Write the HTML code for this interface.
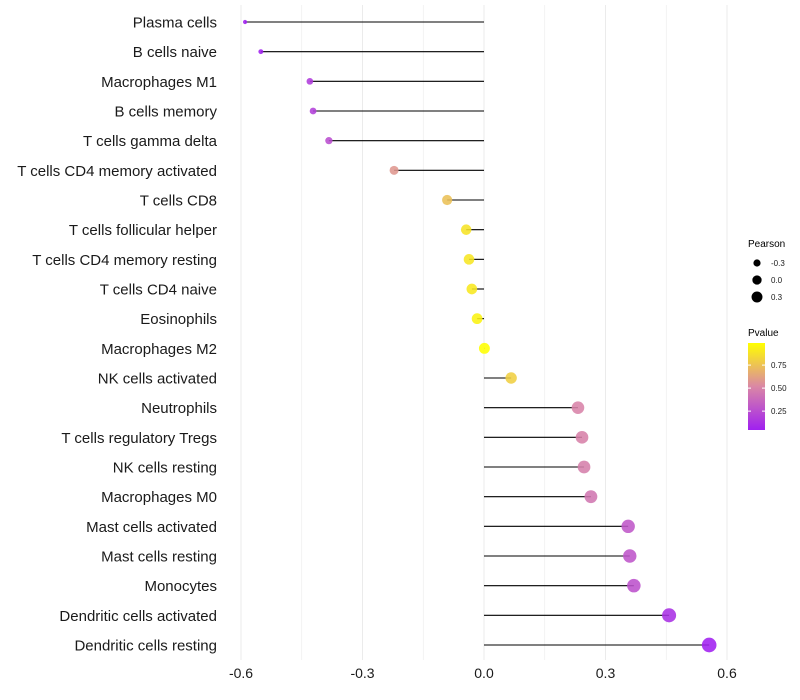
<!DOCTYPE html>
<html><head><meta charset="utf-8"><style>
body{margin:0;background:#fff;}
svg{display:block;font-family:"Liberation Sans",sans-serif;}
</style></head><body>
<svg id="chart" width="800" height="700"></svg>
<script>
const categories=["Plasma cells","B cells naive","Macrophages M1","B cells memory","T cells gamma delta","T cells CD4 memory activated","T cells CD8","T cells follicular helper","T cells CD4 memory resting","T cells CD4 naive","Eosinophils","Macrophages M2","NK cells activated","Neutrophils","T cells regulatory  Tregs ","NK cells resting","Macrophages M0","Mast cells activated","Mast cells resting","Monocytes","Dendritic cells activated","Dendritic cells resting"];
const pearson=[-0.590,-0.551,-0.430,-0.422,-0.383,-0.222,-0.091,-0.044,-0.037,-0.030,-0.017,0.001,0.067,0.232,0.242,0.247,0.264,0.356,0.360,0.370,0.457,0.556];
const pvalues=[0.02,0.05,0.17,0.19,0.25,0.58,0.74,0.88,0.89,0.90,0.94,1.0,0.80,0.50,0.49,0.48,0.44,0.30,0.29,0.27,0.12,0.04];
const xTicks=[-0.6,-0.3,0.0,0.3,0.6];
const xTickLabels=["-0.6","-0.3","0.0","0.3","0.6"];
const sizeLegend=[-0.3,0.0,0.3];
const colorTicks=[0.25,0.50,0.75];

const NS="http://www.w3.org/2000/svg";
const svg=document.getElementById('chart');
function el(t,a,p){const e=document.createElementNS(NS,t);for(const k in a)e.setAttribute(k,a[k]);(p||svg).appendChild(e);return e;}
const x=v=>484+v*405;
const y=i=>22+i*(623/21);
const r=v=>Math.sqrt(Math.max(2,29.7+43*v));
const rl=v=>Math.sqrt(Math.max(1.2,20.5+32*v));
function lerp(a,b,t){return a.map((c,i)=>Math.round(c+(b[i]-c)*t));}
function col(p){const t=Math.min(1,Math.max(0,(p-0.045)/(0.99-0.045)));
 const s=[[160,32,240],[218,135,165],[255,255,0]];
 const c=t<0.5?lerp(s[0],s[1],t/0.5):lerp(s[1],s[2],(t-0.5)/0.5);return `rgb(${c.join(',')})`;}

for(let g=-0.6;g<=0.61;g+=0.15){
 const gl=el('line',{x1:x(g),x2:x(g),y1:5,y2:660,stroke:'#ebebeb','stroke-width':Math.abs(Math.round(g*100)%30)<1?1:0.6});
 
}
xTicks.forEach((t,i)=>{
 const tx=el('text',{x:x(t),y:678,'font-size':14,'text-anchor':'middle',fill:'#1a1a1a'});tx.textContent=xTickLabels[i];
 
});
categories.forEach((c,i)=>{
 const lb=el('text',{x:217,y:y(i)+5.5,'font-size':15,'text-anchor':'end',fill:'#1a1a1a'});lb.textContent=c;
 
 const ln=el('line',{x1:x(0),x2:x(pearson[i]),y1:y(i),y2:y(i),stroke:'#000','stroke-width':1.1});
 
 const d=el('circle',{cx:x(pearson[i]),cy:y(i),r:r(pearson[i]),fill:col(pvalues[i]),'fill-opacity':0.88});
 
});
const lg=el('g',{});
el('text',{x:748,y:247,'font-size':10,fill:'#000'},lg).textContent='Pearson';
sizeLegend.forEach((v,i)=>{
 const c=el('circle',{cx:757,cy:263+i*17,r:rl(v)*0.85+0.8,fill:'#000'},lg);
 
 el('text',{x:771,y:266+i*17,'font-size':8,fill:'#1a1a1a'},lg).textContent=v===0?'0.0':(v>0?'0.3':'-0.3');
});
const cg=el('g',{});
el('text',{x:748,y:336,'font-size':10,fill:'#000'},cg).textContent='Pvalue';
const defs=el('defs',{});const grad=el('linearGradient',{id:'pg',x1:0,y1:1,x2:0,y2:0},defs);
[0,0.25,0.5,0.75,1].forEach(o=>el('stop',{offset:o,'stop-color':col(0.045+o*(0.99-0.045))},grad));
const bar=el('rect',{x:748,y:343,width:17,height:87,fill:'url(#pg)'},cg);

const cy=v=>430-(v-0.045)/(0.99-0.045)*87;
colorTicks.forEach(v=>{
 el('line',{x1:748,x2:751,y1:cy(v),y2:cy(v),stroke:'#fff'},cg);
 el('line',{x1:762,x2:765,y1:cy(v),y2:cy(v),stroke:'#fff'},cg);
 el('text',{x:771,y:cy(v)+3,'font-size':8,fill:'#1a1a1a'},cg).textContent=v.toFixed(2);
});
</script>
</body></html>
